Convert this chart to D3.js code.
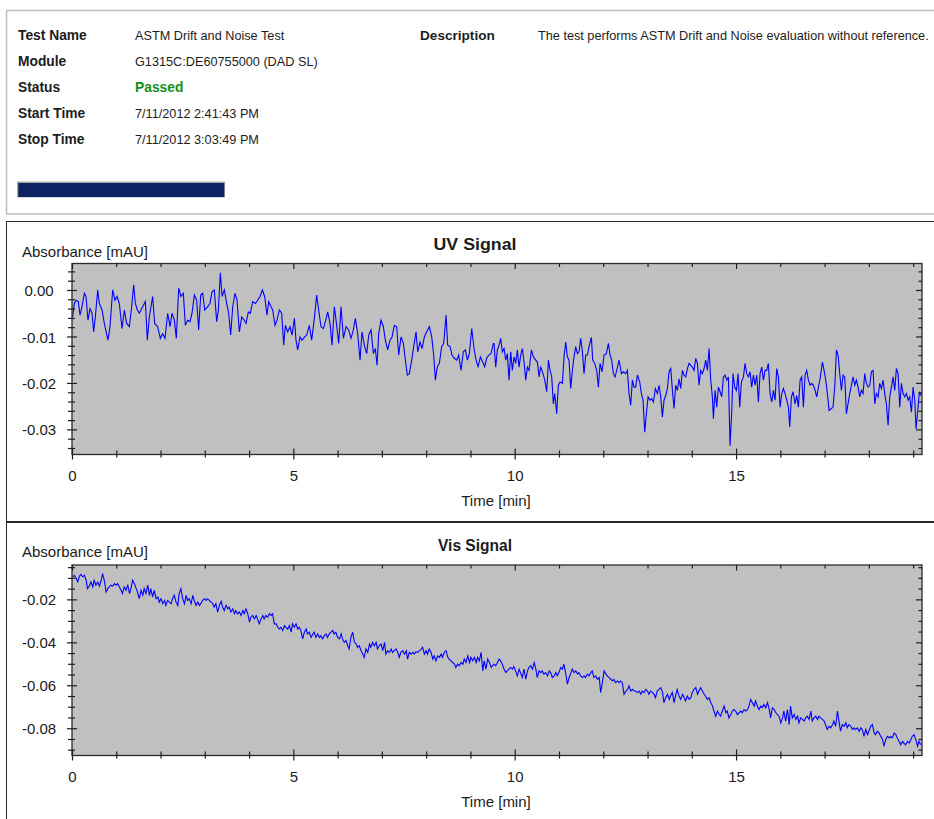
<!DOCTYPE html>
<html>
<head>
<meta charset="utf-8">
<script src="https://cdn.jsdelivr.net/npm/d3@7"></script>
<style>
  html, body { margin: 0; padding: 0; background: #ffffff; }
  svg { display: block; font-family: "Liberation Sans", Arial, sans-serif; }
</style>
</head>
<body>
<script>
// ---------------- DATA ----------------
const headerLabels = ["Test Name", "Module", "Status", "Start Time", "Stop Time"];
const headerValues = ["ASTM Drift and Noise Test", "G1315C:DE60755000 (DAD SL)", "Passed", "7/11/2012 2:41:43 PM", "7/11/2012 3:03:49 PM"];
const descriptionLabel = "Description";
const descriptionText = "The test performs ASTM Drift and Noise evaluation without reference.";

const xMajorTicks = [0, 5, 10, 15];
const xMinorTicks = [1, 2, 3, 4, 6, 7, 8, 9, 11, 12, 13, 14, 16, 17, 18, 19];

const uvMajorTicks = [0, -0.01, -0.02, -0.03];
const uvMinorTicks = [0.004, 0.002, -0.002, -0.004, -0.006, -0.008, -0.012, -0.014, -0.016, -0.018, -0.022, -0.024, -0.026, -0.028, -0.032, -0.034];
const visMajorTicks = [-0.02, -0.04, -0.06, -0.08];
const visMinorTicks = [-0.005, -0.010, -0.015, -0.025, -0.030, -0.035, -0.045, -0.050, -0.055, -0.065, -0.070, -0.075, -0.085, -0.090];

// UV signal: time [min]
const uvTime = [
0.015,0.053,0.090,0.143,0.181,0.226,0.279,0.316,0.361,0.407,
0.452,0.489,0.527,0.580,0.617,0.678,0.730,0.813,0.858,0.919,
0.971,1.017,1.069,1.130,1.182,1.235,1.295,1.348,1.393,1.431,
1.476,1.521,1.596,1.657,1.702,1.747,1.822,1.867,1.935,1.995,
2.048,2.101,2.161,2.214,2.259,2.312,2.357,2.410,2.462,2.515,
2.560,2.613,2.666,2.711,2.764,2.816,2.861,2.907,2.952,2.997,
3.065,3.117,3.163,3.215,3.268,3.306,3.351,3.389,3.441,3.494,
3.539,3.584,3.630,3.682,3.727,3.780,3.833,3.893,3.931,3.983,
4.029,4.081,4.142,4.194,4.247,4.300,4.352,4.405,4.443,4.495,
4.533,4.586,4.631,4.684,4.736,4.782,4.819,4.872,4.925,4.970,
5.023,5.060,5.098,5.151,5.196,5.256,5.301,5.361,5.414,5.474,
5.527,5.572,5.625,5.678,5.723,5.776,5.828,5.873,5.926,5.979,
6.024,6.077,6.130,6.190,6.250,6.303,6.355,6.401,6.453,6.506,
6.551,6.604,6.657,6.702,6.755,6.807,6.852,6.890,6.928,6.980,
7.033,7.078,7.131,7.184,7.229,7.282,7.334,7.380,7.432,7.485,
7.530,7.575,7.620,7.673,7.718,7.771,7.809,7.861,7.907,7.959,
8.012,8.072,8.125,8.170,8.208,8.253,8.298,8.351,8.396,8.449,
8.486,8.539,8.584,8.637,8.690,8.735,8.788,8.840,8.886,8.931,
8.976,9.029,9.081,9.127,9.172,9.224,9.277,9.322,9.367,9.413,
9.465,9.518,
9.533,9.571,9.608,9.646,9.684,9.721,9.759,9.797,9.834,9.872,
9.910,9.947,9.985,10.023,10.060,10.098,10.136,10.173,10.211,10.249,
10.286,10.324,10.377,10.422,10.474,10.512,10.550,10.587,10.640,10.678,
10.723,10.761,10.798,10.836,10.873,10.904,10.949,10.986,11.024,11.077,
11.114,11.152,11.190,11.227,11.265,11.303,11.340,11.378,11.416,11.453,
11.491,11.529,11.566,11.604,11.642,11.679,11.732,11.762,11.807,11.852,
11.890,11.928,11.973,12.018,12.071,12.116,12.154,12.191,12.229,12.267,
12.304,12.357,12.410,12.455,12.508,12.545,12.583,12.620,12.658,12.696,
12.733,12.771,12.824,12.861,12.899,12.937,12.974,13.012,13.057,13.095,
13.133,13.178,13.223,13.261,13.298,13.336,13.373,13.411,13.449,13.486,
13.524,13.562,13.599,13.637,13.675,13.712,13.750,13.788,13.825,13.863,
13.901,13.938,13.976,14.014,14.051,14.089,14.127,14.164,14.202,14.239,
14.277,14.315,14.352,14.390,14.428,14.465,14.488,14.526,14.563,14.601,
14.639,14.676,14.714,14.752,14.789,14.827,14.864,14.902,14.932,14.970,
15.008,15.045,15.083,15.120,15.166,15.203,15.241,15.279,15.316,15.354,
15.392,15.429,15.467,15.505,15.542,15.580,15.617,15.655,15.693,15.730,
15.768,15.806,15.843,15.881,15.919,15.956,15.994,16.032,16.069,16.107,
16.145,16.182,16.212,16.250,16.288,16.333,16.370,16.408,16.446,16.483,
16.521,16.559,16.596,16.634,16.672,16.709,16.747,16.785,16.822,16.860,
16.898,16.950,16.988,17.026,17.063,17.101,17.154,17.191,17.229,17.267,
17.304,17.342,17.380,17.417,17.455,17.492,17.530,17.568,17.605,17.643,
17.681,17.718,17.756,17.794,17.831,17.869,17.907,17.944,17.982,18.020,
18.057,18.095,18.133,18.170,18.208,18.245,18.283,18.321,18.358,18.396,
18.434,18.471,18.509,18.547,18.584,18.622,18.660,18.697,18.735,18.773,
18.810,18.848,18.886,18.923,18.961,18.998,19.036,19.066,19.104,19.142,
19.172];

// UV signal: absorbance [mAU]
const uvAbs = [
-0.0058,-0.0029,-0.0022,-0.0025,-0.0054,-0.0036,-0.0007,-0.0014,-0.0065,-0.0040,
-0.0050,-0.0090,-0.0058,0.0000,-0.0029,-0.0043,-0.0072,-0.0108,-0.0079,0.0000,
-0.0022,-0.0014,-0.0029,-0.0083,-0.0043,-0.0072,-0.0079,-0.0036,0.0011,-0.0029,
-0.0043,-0.0050,-0.0036,-0.0025,-0.0108,-0.0058,-0.0014,-0.0072,-0.0079,-0.0104,
-0.0094,-0.0104,-0.0050,-0.0079,-0.0050,-0.0065,-0.0104,0.0004,-0.0014,-0.0007,
-0.0076,-0.0065,-0.0068,-0.0050,-0.0011,-0.0022,-0.0086,-0.0011,-0.0007,-0.0043,
-0.0036,-0.0029,-0.0004,0.0000,-0.0068,-0.0043,0.0037,-0.0014,0.0000,-0.0029,
-0.0050,-0.0097,-0.0036,-0.0007,-0.0022,-0.0090,-0.0058,-0.0065,-0.0072,-0.0047,
-0.0050,-0.0025,-0.0029,-0.0022,-0.0014,0.0000,-0.0014,-0.0054,-0.0025,-0.0036,
-0.0043,-0.0076,-0.0065,-0.0043,-0.0050,-0.0119,-0.0076,-0.0090,-0.0079,-0.0097,
-0.0061,-0.0108,-0.0129,-0.0101,-0.0108,-0.0101,-0.0097,-0.0076,-0.0108,-0.0061,
-0.0011,-0.0043,-0.0079,-0.0083,-0.0068,-0.0047,-0.0072,-0.0119,-0.0036,-0.0076,
-0.0115,-0.0036,-0.0104,-0.0079,-0.0086,-0.0104,-0.0086,-0.0061,-0.0094,-0.0151,
-0.0090,-0.0119,-0.0137,-0.0097,-0.0086,-0.0137,-0.0126,-0.0162,-0.0094,-0.0065,
-0.0079,-0.0108,-0.0129,-0.0108,-0.0101,-0.0076,-0.0079,-0.0140,-0.0101,-0.0115,
-0.0151,-0.0183,-0.0180,-0.0151,-0.0122,-0.0090,-0.0133,-0.0112,-0.0126,-0.0101,
-0.0090,-0.0079,-0.0101,-0.0140,-0.0194,-0.0165,-0.0158,-0.0122,-0.0115,-0.0054,
-0.0119,-0.0122,-0.0140,-0.0147,-0.0151,-0.0140,-0.0173,-0.0133,-0.0129,-0.0151,
-0.0137,-0.0083,-0.0126,-0.0151,-0.0165,-0.0144,-0.0155,-0.0165,-0.0147,-0.0140,
-0.0137,-0.0115,
-0.0115,-0.0166,-0.0129,-0.0119,-0.0104,-0.0133,-0.0126,-0.0151,-0.0137,-0.0194,
-0.0133,-0.0173,-0.0144,-0.0158,-0.0129,-0.0166,-0.0140,-0.0126,-0.0155,-0.0194,
-0.0166,-0.0173,-0.0129,-0.0144,-0.0151,-0.0155,-0.0187,-0.0166,-0.0180,-0.0194,
-0.0219,-0.0151,-0.0173,-0.0187,-0.0245,-0.0223,-0.0266,-0.0205,-0.0198,-0.0201,
-0.0144,-0.0112,-0.0144,-0.0151,-0.0212,-0.0173,-0.0144,-0.0122,-0.0137,-0.0133,
-0.0104,-0.0133,-0.0180,-0.0140,-0.0140,-0.0122,-0.0102,-0.0151,-0.0158,-0.0173,
-0.0209,-0.0158,-0.0176,-0.0140,-0.0137,-0.0115,-0.0140,-0.0151,-0.0180,-0.0187,
-0.0173,-0.0151,-0.0180,-0.0176,-0.0180,-0.0173,-0.0223,-0.0248,-0.0194,-0.0209,
-0.0209,-0.0183,-0.0198,-0.0223,-0.0237,-0.0306,-0.0266,-0.0230,-0.0237,-0.0234,
-0.0241,-0.0212,-0.0223,-0.0205,-0.0230,-0.0273,-0.0237,-0.0227,-0.0212,-0.0176,
-0.0169,-0.0216,-0.0255,-0.0205,-0.0216,-0.0191,-0.0212,-0.0173,-0.0183,-0.0187,
-0.0169,-0.0158,-0.0162,-0.0166,-0.0173,-0.0147,-0.0158,-0.0205,-0.0173,-0.0180,
-0.0169,-0.0151,-0.0173,-0.0126,-0.0194,-0.0230,-0.0277,-0.0216,-0.0252,-0.0209,
-0.0219,-0.0230,-0.0187,-0.0183,-0.0194,-0.0187,-0.0335,-0.0263,-0.0180,-0.0209,
-0.0216,-0.0180,-0.0252,-0.0198,-0.0187,-0.0158,-0.0180,-0.0187,-0.0176,-0.0209,
-0.0183,-0.0205,-0.0183,-0.0241,-0.0180,-0.0166,-0.0194,-0.0173,-0.0173,-0.0158,
-0.0223,-0.0241,-0.0216,-0.0237,-0.0169,-0.0187,-0.0252,-0.0223,-0.0212,-0.0223,
-0.0237,-0.0252,-0.0295,-0.0230,-0.0219,-0.0245,-0.0227,-0.0252,-0.0194,-0.0187,
-0.0252,-0.0183,-0.0173,-0.0194,-0.0205,-0.0201,-0.0205,-0.0216,-0.0230,-0.0209,
-0.0191,-0.0155,-0.0173,-0.0194,-0.0223,-0.0259,-0.0255,-0.0252,-0.0209,-0.0129,
-0.0140,-0.0180,-0.0216,-0.0183,-0.0187,-0.0266,-0.0245,-0.0223,-0.0205,-0.0187,
-0.0205,-0.0194,-0.0209,-0.0230,-0.0216,-0.0223,-0.0180,-0.0201,-0.0209,-0.0205,
-0.0176,-0.0173,-0.0245,-0.0223,-0.0230,-0.0201,-0.0212,-0.0194,-0.0223,-0.0245,
-0.0291,-0.0230,-0.0209,-0.0187,-0.0216,-0.0169,-0.0180,-0.0252,-0.0201,-0.0223,
-0.0230,-0.0223,-0.0237,-0.0230,-0.0263,-0.0209,-0.0237,-0.0299,-0.0259,-0.0219,
-0.0227];

// Vis signal: time [min]
const visTime = [
0.02,0.05,0.09,0.13,0.17,0.20,0.24,0.28,0.32,0.35,
0.39,0.43,0.47,0.50,0.54,0.58,0.62,0.66,0.69,0.73,
0.77,0.81,0.84,0.88,0.92,0.96,0.99,1.03,1.07,1.11,
1.14,1.18,1.22,1.26,1.30,1.33,1.37,1.41,1.45,1.48,
1.52,1.56,1.60,1.63,1.67,1.71,1.75,1.78,1.82,1.86,
1.90,1.94,1.97,2.01,2.05,2.09,2.12,2.16,2.20,2.24,
2.27,2.31,2.35,2.39,2.42,2.46,2.50,2.54,2.58,2.61,
2.65,2.69,2.73,2.76,2.80,2.84,2.88,2.91,2.95,2.99,
3.03,3.06,3.10,3.14,3.18,3.21,3.25,3.29,3.33,3.37,
3.40,3.44,3.48,3.52,3.55,3.59,3.63,3.67,3.70,3.74,
3.78,3.82,3.86,3.89,3.93,3.97,4.01,4.04,4.08,4.12,
4.16,4.19,4.23,4.27,4.31,4.34,4.38,4.42,4.46,4.50,
4.53,4.57,4.61,4.65,4.68,4.72,4.76,4.80,4.83,4.87,
4.91,4.95,4.98,5.02,5.06,5.10,5.13,5.17,5.21,5.25,
5.29,5.32,5.36,5.40,5.44,5.47,5.51,5.55,5.59,5.62,
5.66,5.70,5.74,5.77,5.81,5.85,5.89,5.92,5.96,6.00,
6.04,6.08,6.11,6.15,6.19,6.23,6.26,6.30,6.34,6.38,
6.42,6.45,6.49,6.53,6.57,6.60,6.64,6.68,6.72,6.75,
6.79,6.83,6.87,6.90,6.94,6.98,7.02,7.06,7.09,7.13,
7.17,7.21,7.24,7.28,7.32,7.36,7.39,7.43,7.47,7.51,
7.55,7.58,7.62,7.66,7.70,7.73,7.77,7.81,7.85,7.88,
7.92,7.96,8.00,8.03,8.07,8.11,8.15,8.18,8.22,8.26,
8.30,8.34,8.37,8.41,8.45,8.49,8.52,8.56,8.60,8.64,
8.67,8.71,8.75,8.79,8.83,8.86,8.90,8.94,8.98,9.01,
9.05,9.09,9.13,9.16,9.20,9.24,9.28,9.31,9.35,9.39,
9.43,9.47,9.50,
9.53,9.57,9.61,9.65,9.68,9.72,9.76,9.80,9.83,9.87,
9.91,9.95,9.98,10.02,10.06,10.10,10.13,10.17,10.21,10.25,
10.29,10.32,10.36,10.40,10.44,10.47,10.51,10.55,10.59,10.62,
10.66,10.70,10.74,10.78,10.81,10.85,10.89,10.93,10.96,11.00,
11.04,11.08,11.11,11.15,11.19,11.23,11.26,11.30,11.34,11.38,
11.42,11.45,11.49,11.53,11.57,11.60,11.64,11.68,11.72,11.75,
11.79,11.83,11.87,11.91,11.94,11.98,12.02,12.06,12.09,12.13,
12.17,12.21,12.24,12.28,12.32,12.36,12.39,12.43,12.47,12.51,
12.55,12.58,12.62,12.66,12.70,12.73,12.77,12.81,12.85,12.88,
12.92,12.96,13.00,13.03,13.07,13.11,13.15,13.18,13.22,13.26,
13.30,13.34,13.37,13.41,13.45,13.49,13.52,13.56,13.60,13.64,
13.67,13.71,13.75,13.79,13.83,13.86,13.90,13.94,13.98,14.01,
14.05,14.09,14.13,14.16,14.20,14.24,14.28,14.31,14.35,14.39,
14.43,14.47,14.50,14.54,14.58,14.62,14.65,14.69,14.73,14.77,
14.80,14.84,14.88,14.92,14.95,14.99,15.03,15.07,15.11,15.14,
15.18,15.22,15.26,15.29,15.33,15.37,15.41,15.44,15.48,15.52,
15.56,15.59,15.63,15.67,15.71,15.75,15.78,15.82,15.86,15.90,
15.93,15.97,16.01,16.05,16.08,16.12,16.16,16.20,16.23,16.27,
16.31,16.35,16.39,16.42,16.46,16.50,16.54,16.57,16.61,16.65,
16.69,16.72,16.76,16.80,16.84,16.87,16.91,16.95,16.99,17.02,
17.06,17.10,17.14,17.18,17.21,17.25,17.29,17.33,17.36,17.40,
17.44,17.48,17.51,17.55,17.59,17.63,17.66,17.70,17.74,17.78,
17.82,17.85,17.89,17.93,17.97,18.00,18.04,18.08,18.12,18.15,
18.19,18.23,18.27,18.31,18.34,18.38,18.42,18.46,18.49,18.53,
18.57,18.61,18.64,18.68,18.72,18.76,18.79,18.83,18.87,18.91,
18.95,18.98,19.02,19.06,19.10,19.13,19.17];

// Vis signal: absorbance [mAU]
const visAbs = [
-0.0095,-0.0088,-0.0100,-0.0119,-0.0091,-0.0084,-0.0095,-0.0088,-0.0111,-0.0150,
-0.0138,-0.0119,-0.0142,-0.0111,-0.0134,-0.0119,-0.0138,-0.0111,-0.0080,-0.0111,
-0.0166,-0.0150,-0.0142,-0.0134,-0.0138,-0.0127,-0.0134,-0.0127,-0.0142,-0.0158,
-0.0173,-0.0142,-0.0158,-0.0134,-0.0173,-0.0150,-0.0111,-0.0127,-0.0150,-0.0166,
-0.0197,-0.0158,-0.0181,-0.0150,-0.0173,-0.0134,-0.0181,-0.0150,-0.0189,-0.0158,
-0.0197,-0.0189,-0.0213,-0.0197,-0.0220,-0.0205,-0.0228,-0.0205,-0.0213,-0.0220,
-0.0197,-0.0181,-0.0213,-0.0228,-0.0173,-0.0150,-0.0197,-0.0220,-0.0181,-0.0205,
-0.0197,-0.0220,-0.0181,-0.0205,-0.0228,-0.0213,-0.0228,-0.0220,-0.0205,-0.0197,
-0.0205,-0.0197,-0.0205,-0.0213,-0.0220,-0.0236,-0.0220,-0.0259,-0.0228,-0.0209,
-0.0236,-0.0252,-0.0228,-0.0244,-0.0236,-0.0259,-0.0244,-0.0267,-0.0252,-0.0267,
-0.0259,-0.0275,-0.0252,-0.0267,-0.0244,-0.0267,-0.0306,-0.0283,-0.0275,-0.0291,
-0.0275,-0.0291,-0.0314,-0.0291,-0.0275,-0.0291,-0.0275,-0.0283,-0.0267,-0.0275,
-0.0267,-0.0314,-0.0314,-0.0330,-0.0338,-0.0330,-0.0345,-0.0322,-0.0330,-0.0338,
-0.0322,-0.0353,-0.0314,-0.0330,-0.0314,-0.0338,-0.0330,-0.0345,-0.0384,-0.0353,
-0.0338,-0.0361,-0.0353,-0.0377,-0.0361,-0.0353,-0.0377,-0.0361,-0.0377,-0.0369,
-0.0384,-0.0369,-0.0361,-0.0377,-0.0361,-0.0353,-0.0345,-0.0361,-0.0353,-0.0377,
-0.0384,-0.0361,-0.0384,-0.0400,-0.0392,-0.0416,-0.0431,-0.0377,-0.0353,-0.0400,
-0.0408,-0.0423,-0.0416,-0.0439,-0.0455,-0.0470,-0.0431,-0.0447,-0.0408,-0.0423,
-0.0400,-0.0416,-0.0400,-0.0431,-0.0416,-0.0408,-0.0439,-0.0400,-0.0455,-0.0439,
-0.0447,-0.0431,-0.0447,-0.0439,-0.0431,-0.0447,-0.0470,-0.0447,-0.0439,-0.0455,
-0.0439,-0.0478,-0.0447,-0.0455,-0.0447,-0.0455,-0.0444,-0.0447,-0.0439,-0.0434,
-0.0423,-0.0455,-0.0439,-0.0455,-0.0431,-0.0447,-0.0478,-0.0463,-0.0486,-0.0463,
-0.0470,-0.0455,-0.0470,-0.0447,-0.0439,-0.0470,-0.0478,-0.0486,-0.0494,-0.0502,
-0.0517,-0.0502,-0.0509,-0.0494,-0.0502,-0.0478,-0.0494,-0.0463,-0.0494,-0.0470,
-0.0486,-0.0470,-0.0494,-0.0470,-0.0486,-0.0447,-0.0533,-0.0486,-0.0525,-0.0478,
-0.0494,-0.0517,-0.0509,
-0.0502,-0.0509,-0.0494,-0.0478,-0.0486,-0.0502,-0.0525,-0.0541,-0.0533,-0.0525,
-0.0517,-0.0525,-0.0513,-0.0533,-0.0556,-0.0525,-0.0541,-0.0564,-0.0525,-0.0572,
-0.0533,-0.0517,-0.0509,-0.0525,-0.0494,-0.0517,-0.0564,-0.0533,-0.0541,-0.0533,
-0.0548,-0.0541,-0.0556,-0.0533,-0.0541,-0.0564,-0.0556,-0.0541,-0.0556,-0.0541,
-0.0517,-0.0525,-0.0502,-0.0541,-0.0595,-0.0564,-0.0548,-0.0525,-0.0541,-0.0533,
-0.0548,-0.0541,-0.0556,-0.0564,-0.0556,-0.0564,-0.0548,-0.0556,-0.0541,-0.0533,
-0.0564,-0.0556,-0.0572,-0.0564,-0.0634,-0.0588,-0.0533,-0.0548,-0.0556,-0.0564,
-0.0572,-0.0580,-0.0572,-0.0588,-0.0580,-0.0588,-0.0580,-0.0588,-0.0642,-0.0627,
-0.0619,-0.0603,-0.0627,-0.0619,-0.0627,-0.0627,-0.0634,-0.0627,-0.0642,-0.0627,
-0.0634,-0.0619,-0.0627,-0.0642,-0.0627,-0.0634,-0.0642,-0.0658,-0.0627,-0.0619,
-0.0611,-0.0634,-0.0681,-0.0658,-0.0642,-0.0666,-0.0650,-0.0634,-0.0681,-0.0642,
-0.0619,-0.0650,-0.0666,-0.0642,-0.0658,-0.0673,-0.0650,-0.0666,-0.0658,-0.0634,
-0.0619,-0.0611,-0.0642,-0.0627,-0.0611,-0.0627,-0.0642,-0.0650,-0.0666,-0.0658,
-0.0681,-0.0697,-0.0720,-0.0744,-0.0720,-0.0736,-0.0744,-0.0720,-0.0697,-0.0728,
-0.0720,-0.0752,-0.0736,-0.0720,-0.0713,-0.0720,-0.0736,-0.0728,-0.0720,-0.0728,
-0.0713,-0.0720,-0.0713,-0.0697,-0.0666,-0.0681,-0.0697,-0.0673,-0.0697,-0.0713,
-0.0697,-0.0705,-0.0689,-0.0705,-0.0681,-0.0713,-0.0752,-0.0705,-0.0713,-0.0728,
-0.0736,-0.0744,-0.0775,-0.0752,-0.0720,-0.0767,-0.0713,-0.0783,-0.0697,-0.0752,
-0.0736,-0.0759,-0.0744,-0.0775,-0.0752,-0.0759,-0.0767,-0.0752,-0.0744,-0.0759,
-0.0720,-0.0767,-0.0752,-0.0744,-0.0759,-0.0744,-0.0752,-0.0759,-0.0767,-0.0783,
-0.0806,-0.0791,-0.0798,-0.0783,-0.0767,-0.0791,-0.0720,-0.0775,-0.0814,-0.0783,
-0.0791,-0.0775,-0.0798,-0.0783,-0.0791,-0.0806,-0.0798,-0.0806,-0.0798,-0.0814,
-0.0798,-0.0806,-0.0838,-0.0806,-0.0830,-0.0814,-0.0791,-0.0783,-0.0822,-0.0830,
-0.0814,-0.0822,-0.0838,-0.0853,-0.0884,-0.0853,-0.0838,-0.0845,-0.0838,-0.0845,
-0.0822,-0.0830,-0.0845,-0.0861,-0.0877,-0.0861,-0.0869,-0.0877,-0.0861,-0.0869,
-0.0853,-0.0838,-0.0830,-0.0853,-0.0884,-0.0861,-0.0877];

// ---------------- DRAWING ----------------
const W = 934, H = 819;
const FONT = '"Liberation Sans", Arial, sans-serif';
const TEXT = "#1c1c1c";
const svg = d3.select("body").append("svg").attr("width", W).attr("height", H);

// Header panel
svg.append("rect").attr("x", 6.5).attr("y", 10.5).attr("width", 960).attr("height", 203.5)
  .attr("fill", "#ffffff").attr("stroke", "#bdbdbd").attr("stroke-width", 1.5);

const rowY = [40, 66, 92, 118, 144];
headerLabels.forEach((lab, i) => {
  svg.append("text").attr("x", 18).attr("y", rowY[i]).text(lab)
    .attr("font-size", 13.8).attr("font-weight", "bold").attr("fill", TEXT);
  const isStatus = lab === "Status";
  svg.append("text").attr("x", 135).attr("y", rowY[i]).text(headerValues[i])
    .attr("font-size", isStatus ? 13.8 : 12.7)
    .attr("font-weight", isStatus ? "bold" : "normal")
    .attr("fill", isStatus ? "#168f16" : TEXT);
});
svg.append("text").attr("x", 420).attr("y", 40).text(descriptionLabel)
  .attr("font-size", 13.6).attr("font-weight", "bold").attr("fill", TEXT);
svg.append("text").attr("x", 538).attr("y", 40).text(descriptionText)
  .attr("font-size", 12.7).attr("fill", TEXT);

// progress bar
svg.append("rect").attr("x", 17).attr("y", 181.5).attr("width", 208).attr("height", 16)
  .attr("fill", "#a9a9a9");
svg.append("rect").attr("x", 18.3).attr("y", 183).attr("width", 206).attr("height", 14)
  .attr("fill", "#0c2262");

// Chart panels
svg.append("rect").attr("x", 6.5).attr("y", 221.5).attr("width", 960).attr("height", 300)
  .attr("fill", "#ffffff").attr("stroke", "#2a2a2a").attr("stroke-width", 1);
svg.append("rect").attr("x", 6.5).attr("y", 522.5).attr("width", 960).attr("height", 320)
  .attr("fill", "#ffffff").attr("stroke", "#2a2a2a").attr("stroke-width", 1);

const xDomain = [0, 19.2];
const plotLeft = 72, plotRight = 922;

function drawChart(cfg) {
  const { id, title, titleLen, top, bottom, yDomain, yMajor, yMinor, times, values, titleY, yLabelY, xLabelY, xTitleY } = cfg;
  const x = d3.scaleLinear().domain(xDomain).range([plotLeft, plotRight]);
  const y = d3.scaleLinear().domain(yDomain).range([bottom, top]);
  const g = svg.append("g");

  g.append("rect").attr("x", plotLeft).attr("y", top).attr("width", plotRight - plotLeft)
    .attr("height", bottom - top).attr("fill", "#c0c0c0");

  g.append("clipPath").attr("id", "clip-" + id).append("rect")
    .attr("x", plotLeft).attr("y", top).attr("width", plotRight - plotLeft).attr("height", bottom - top);

  const pts = times.map((t, i) => [t, values[i]]);
  const line = d3.line().x(d => x(d[0])).y(d => y(d[1]));
  g.append("path").datum(pts).attr("d", line)
    .attr("fill", "none").attr("stroke", "#0000ff").attr("stroke-width", 1.1)
    .attr("stroke-linejoin", "miter").attr("clip-path", `url(#clip-${id})`);

  g.append("rect").attr("x", plotLeft).attr("y", top).attr("width", plotRight - plotLeft)
    .attr("height", bottom - top).attr("fill", "none").attr("stroke", "#2b2b2b").attr("stroke-width", 1.3);

  const clean = sel => {
    sel.select(".domain").remove();
    sel.selectAll("line").attr("stroke", "#1e1e1e").attr("stroke-width", 1.2);
    sel.attr("font-family", FONT);
  };
  const put = (axis, tx, ty) => g.append("g").attr("transform", `translate(${tx},${ty})`).call(axis).call(clean);

  // bottom axis (ticks cross the frame)
  put(d3.axisBottom(x).tickValues(xMinorTicks).tickSize(3).tickFormat(""), 0, bottom);
  put(d3.axisTop(x).tickValues(xMinorTicks).tickSize(4).tickFormat(""), 0, bottom);
  put(d3.axisTop(x).tickValues(xMajorTicks).tickSize(6).tickFormat(""), 0, bottom);
  const xb = put(d3.axisBottom(x).tickValues(xMajorTicks).tickSize(5).tickFormat(d3.format("d")), 0, bottom);
  xb.selectAll("text").attr("y", xLabelY - bottom).attr("dy", null)
    .attr("font-size", 15).attr("fill", TEXT);

  // top axis (inside)
  put(d3.axisBottom(x).tickValues(xMinorTicks).tickSize(3.5).tickFormat(""), 0, top);
  put(d3.axisBottom(x).tickValues(xMajorTicks).tickSize(5.5).tickFormat(""), 0, top);

  // left axis (ticks cross the frame)
  put(d3.axisLeft(y).tickValues(yMinor).tickSize(4).tickFormat(""), plotLeft, 0);
  put(d3.axisRight(y).tickValues(yMinor).tickSize(3).tickFormat(""), plotLeft, 0);
  put(d3.axisRight(y).tickValues(yMajor).tickSize(5).tickFormat(""), plotLeft, 0);
  const yl = put(d3.axisLeft(y).tickValues(yMajor).tickSize(5).tickFormat(d => d.toFixed(2)), plotLeft, 0);
  yl.selectAll("text").attr("x", 39 - plotLeft).attr("dy", "0.37em")
    .attr("text-anchor", "middle").attr("font-size", 15).attr("fill", TEXT);

  // right axis (inside)
  put(d3.axisLeft(y).tickValues(yMinor).tickSize(3.5).tickFormat(""), plotRight, 0);
  put(d3.axisLeft(y).tickValues(yMajor).tickSize(6).tickFormat(""), plotRight, 0);

  // texts
  g.append("text").attr("x", 475).attr("y", titleY).attr("text-anchor", "middle")
    .attr("font-size", 17).attr("font-weight", "bold").attr("fill", TEXT)
    .attr("textLength", titleLen).attr("lengthAdjust", "spacingAndGlyphs").text(title);
  g.append("text").attr("x", 22).attr("y", yLabelY).attr("font-size", 15).attr("fill", TEXT)
    .text("Absorbance [mAU]");
  g.append("text").attr("x", 496).attr("y", xTitleY).attr("text-anchor", "middle")
    .attr("font-size", 15).attr("fill", TEXT).text("Time [min]");
}

drawChart({
  id: "uv", title: "UV Signal", titleLen: 83, top: 263.5, bottom: 454.5,
  yDomain: [-0.0354, 0.0057], yMajor: uvMajorTicks, yMinor: uvMinorTicks,
  times: uvTime, values: uvAbs,
  titleY: 250, yLabelY: 256.7, xLabelY: 480.7, xTitleY: 505.5
});

drawChart({
  id: "vis", title: "Vis Signal", titleLen: 74, top: 565, bottom: 755.5,
  yDomain: [-0.0927, -0.0040], yMajor: visMajorTicks, yMinor: visMinorTicks,
  times: visTime, values: visAbs,
  titleY: 550.7, yLabelY: 557.3, xLabelY: 782, xTitleY: 806.5
});
</script>
</body>
</html>
